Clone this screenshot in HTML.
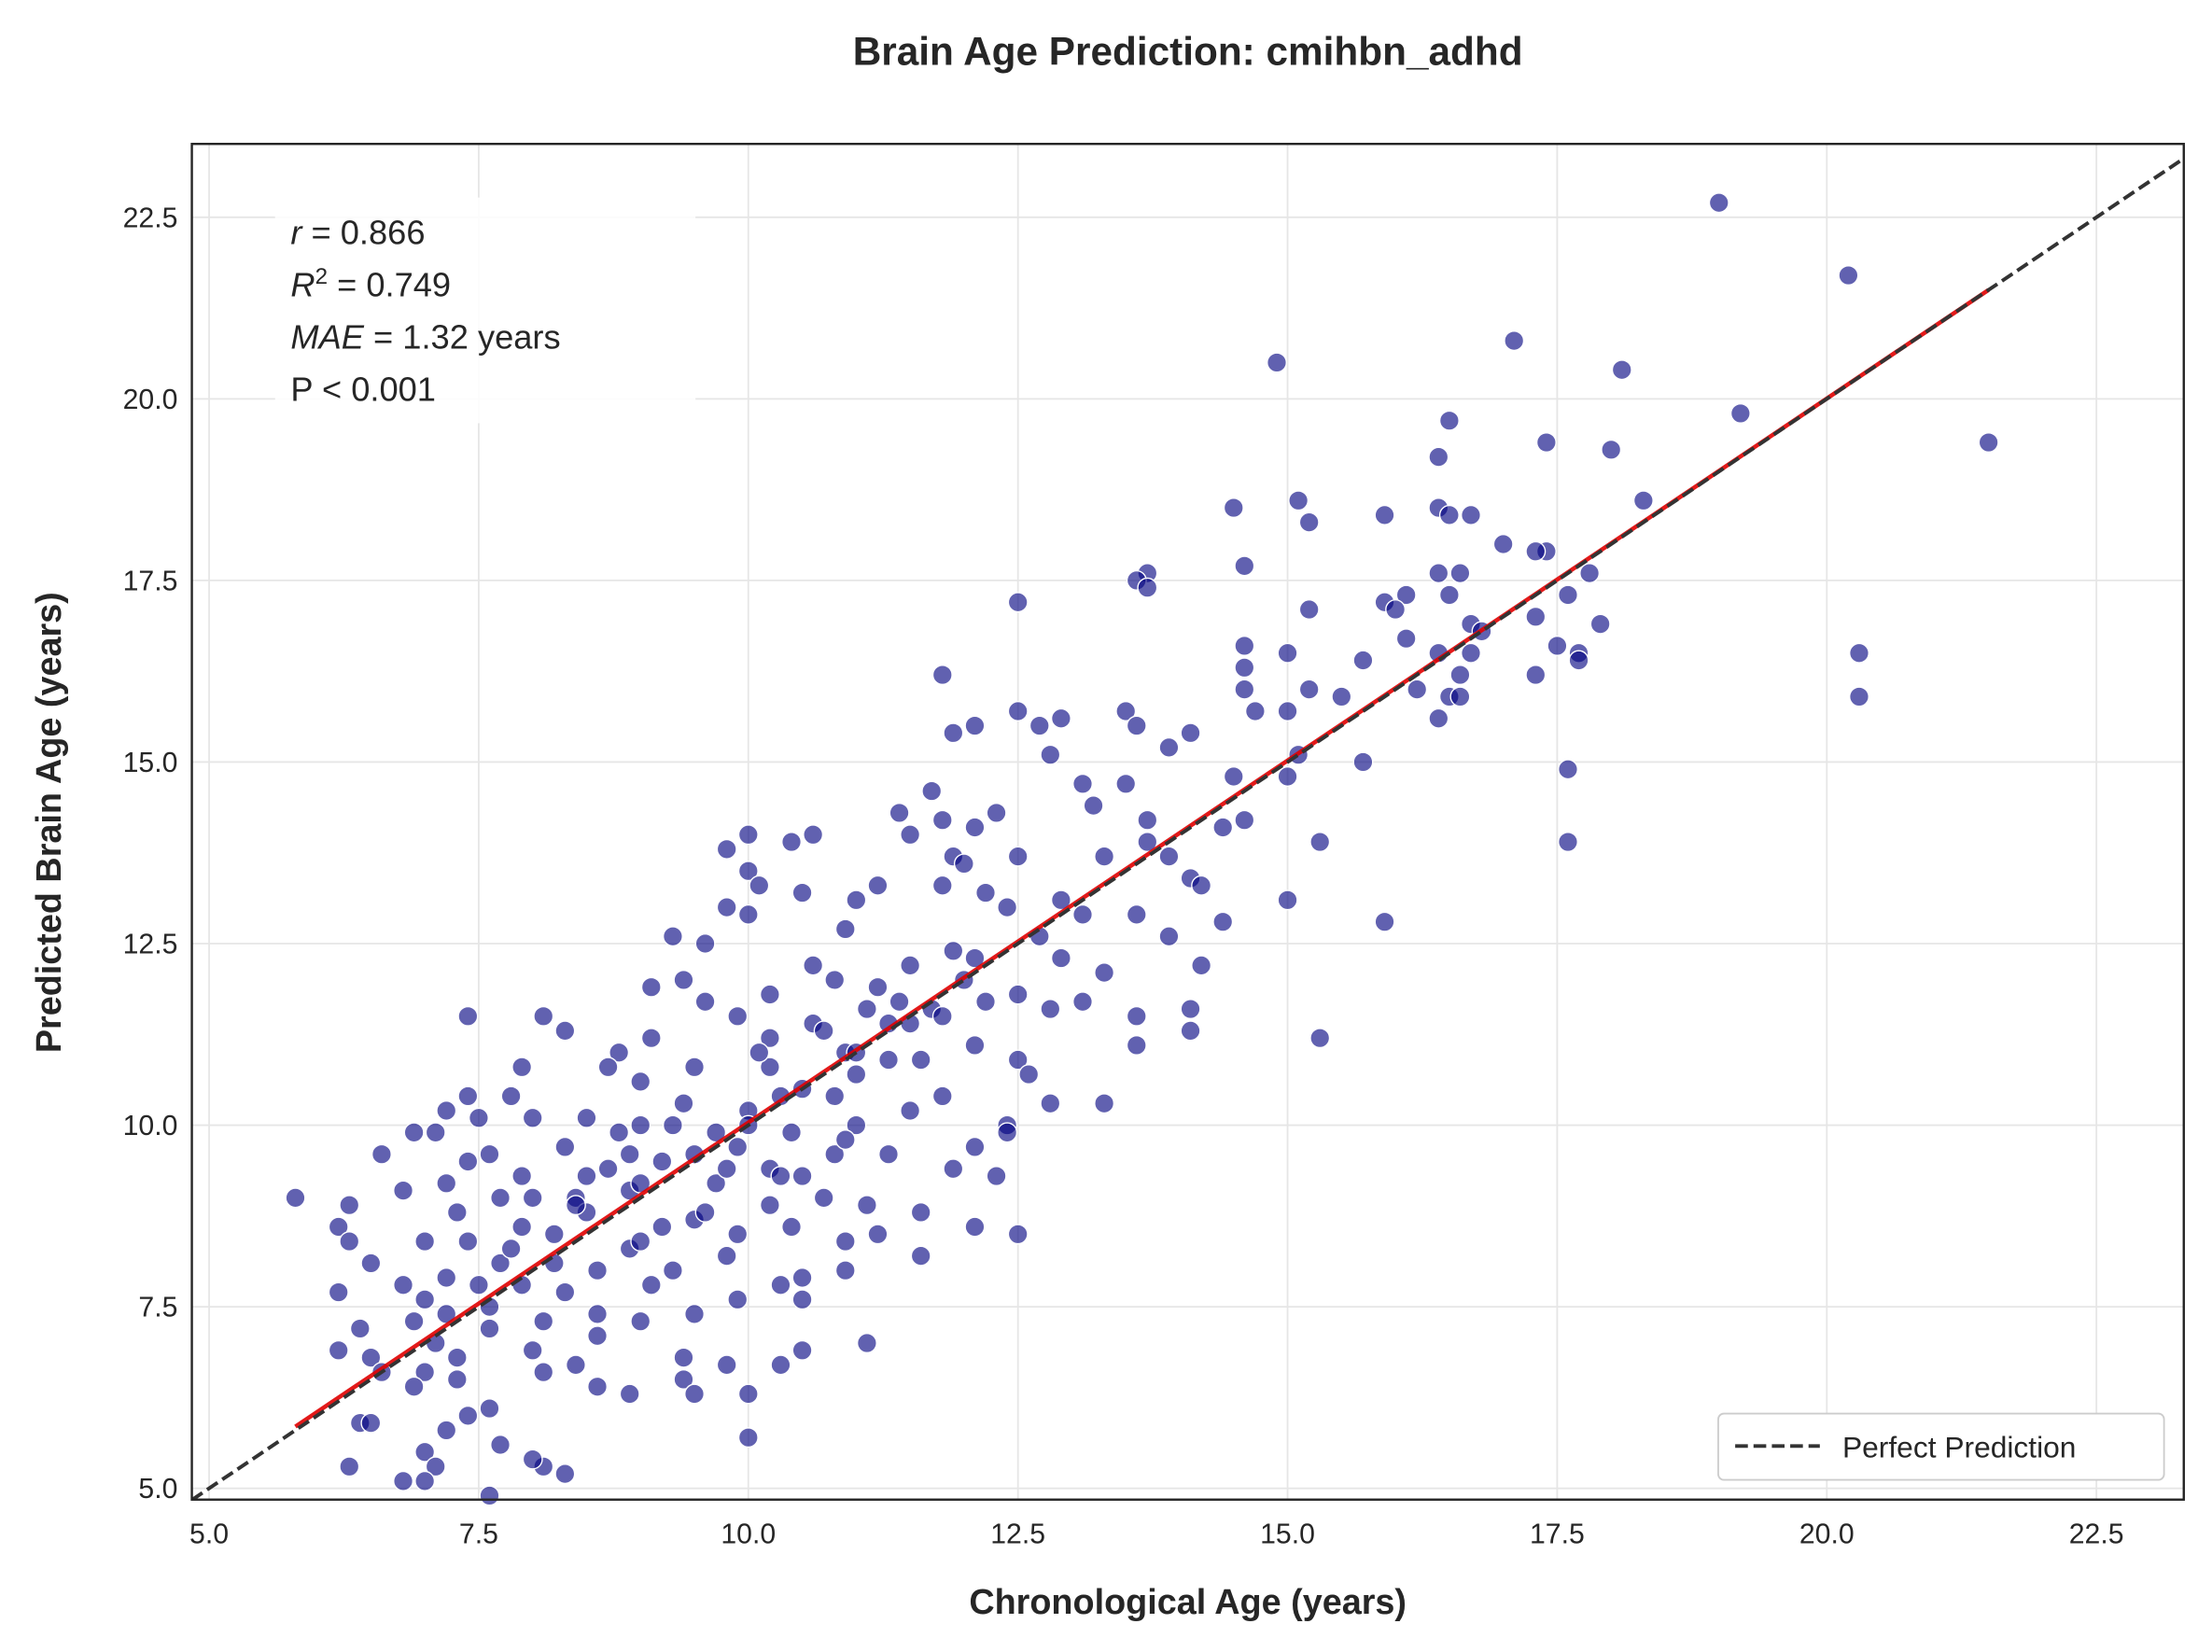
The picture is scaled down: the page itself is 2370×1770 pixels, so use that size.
<!DOCTYPE html>
<html><head><meta charset="utf-8"><style>
html,body{margin:0;padding:0;background:#fff;}
svg{display:block;font-family:"Liberation Sans",Arial,sans-serif;}
</style></head><body>
<svg id="chart" width="2370" height="1770" viewBox="0 0 1568 1171" xmlns="http://www.w3.org/2000/svg">
<defs><clipPath id="plotclip"><rect x="136" y="102" width="1412" height="961"/></clipPath></defs>
<rect width="1568" height="1171" fill="#fff"/>
<g id="grid"></g>
<g id="lines"></g>
<g id="points"></g>
<g id="fit" clip-path="url(#plotclip)"></g>
<rect x="136" y="102" width="1412" height="961" fill="none" stroke="#262626" stroke-width="1.6"/>
<g id="xticks"></g>
<g id="yticks"></g>
<text x="842" y="46" text-anchor="middle" font-size="28" font-weight="bold" fill="#262626">Brain Age Prediction: cmihbn_adhd</text>
<text x="842" y="1144" text-anchor="middle" font-size="25" font-weight="bold" fill="#262626">Chronological Age (years)</text>
<text transform="translate(43,583) rotate(-90)" text-anchor="middle" font-size="25" font-weight="bold" fill="#262626">Predicted Brain Age (years)</text>
<g font-size="24" fill="#262626">
<rect x="195" y="140" width="298" height="160" fill="#fff" opacity="0.85"/>
<text x="206" y="173"><tspan font-style="italic">r</tspan> = 0.866</text>
<text x="206" y="210"><tspan font-style="italic">R</tspan><tspan dy="-9" font-size="16">2</tspan><tspan dy="9"> = 0.749</tspan></text>
<text x="206" y="247"><tspan font-style="italic">MAE</tspan> = 1.32 years</text>
<text x="206" y="284">P &lt; 0.001</text>
</g>
<g>
<rect x="1218" y="1002" width="316" height="47" rx="4" fill="#fff" stroke="#ccc" stroke-width="1.2"/>
<line x1="1230" y1="1025" x2="1290" y2="1025" stroke="#333" stroke-width="2.6" stroke-dasharray="9,4"/>
<text x="1306" y="1033" font-size="21" fill="#262626">Perfect Prediction</text>
</g>
</svg>
<script>
const xTicks=[5.0,7.5,10.0,12.5,15.0,17.5,20.0,22.5];
const yTicks=[5.0,7.5,10.0,12.5,15.0,17.5,20.0,22.5];
const chronAge=[19.0,20.2,17.1,14.9,18.1,19.2,16.5,17.4,21.5,18.0,16.4,18.3,15.1,14.5,16.4,16.5,16.7,15.9,15.2,17.0,17.4,17.3,17.8,14.6,13.7,13.6,16.4,16.6,13.7,16.5,16.1,17.6,15.9,16.0,12.5,15.2,17.3,16.7,17.9,16.8,16.1,16.4,17.5,17.7,14.6,15.0,16.7,15.7,17.7,20.3,14.6,11.8,17.3,16.6,16.2,15.2,16.5,14.6,15.5,16.6,20.3,12.5,13.5,14.7,15.0,16.4,12.7,12.1,11.9,13.6,14.1,12.9,15.1,13.9,12.8,15.7,17.6,14.5,15.0,11.7,13.5,13.1,11.4,12.3,13.2,11.8,14.6,13.7,12.1,14.4,10.6,10.0,11.5,10.4,15.3,17.6,13.7,9.8,10.0,11.9,12.5,13.9,12.0,10.1,10.5,11.2,12.2,13.3,14.1,11.8,9.8,10.0,12.4,14.2,12.9,11.0,13.1,15.0,13.6,14.4,15.9,10.9,13.9,12.7,9.3,9.6,11.9,12.1,12.9,10.6,11.5,14.2,13.3,10.8,9.4,9.1,11.2,12.5,10.2,13.1,11.4,9.6,11.7,9.9,12.8,13.6,7.4,8.1,14.1,14.1,10.6,11.3,15.3,8.3,10.2,9.1,12.1,13.6,8.8,10.9,12.5,11.6,9.5,7.9,10.2,8.7,12.6,11.0,9.0,7.4,7.8,11.8,10.3,13.3,12.8,7.2,9.4,10.0,11.5,8.5,8.0,7.5,12.4,9.0,11.0,12.4,8.8,6.9,7.1,9.7,8.3,9.9,12.1,10.8,7.6,8.9,11.3,6.6,7.4,9.2,10.2,11.9,7.9,8.5,10.5,12.3,7.2,9.7,6.8,8.9,10.7,5.8,7.7,8.4,10.2,11.1,6.3,7.3,9.5,7.9,11.6,10.4,6.2,12.1,12.5,8.2,9.9,7.0,11.2,6.3,7.4,8.9,10.9,11.6,9.8,6.5,7.7,8.6,10.9,9.3,10.5,6.8,7.9,9.1,10.3,8.3,6.2,9.9,7.0,7.6,10.5,8.6,7.2,9.5,6.9,8.1,9.0,6.4,7.6,8.6,7.1,11.1,6.2,8.0,6.5,9.4,7.3,10.5,8.4,9.8,10.3,7.0,6.6,8.1,9.4,7.3,6.9,8.6,9.5,8.9,10.0,7.6,7.4,6.4,6.5,7.2,10.0,7.7,7.0,6.3,8.1,8.3,6.8,7.1,7.6,7.0,8.0,8.0,8.5,9.0,9.5,10.0,10.5,11.0,11.5,12.0,8.2,9.2,9.8,10.4,10.8,11.3,11.8,12.2,7.5,7.8,8.7,9.3,10.1,10.7,11.1,7.2,8.4,9.0,9.6,10.3,10.9];
const predAge=[22.7,21.7,20.8,20.5,20.4,19.8,19.7,19.4,19.4,19.3,19.2,18.6,18.6,18.5,18.5,18.4,18.4,18.4,18.3,18.0,17.9,17.9,17.6,17.7,17.6,17.5,17.6,17.6,17.4,17.3,17.3,17.3,17.2,17.1,17.2,17.1,17.0,16.9,16.9,16.8,16.7,16.5,16.6,16.5,16.6,16.5,16.5,16.4,16.4,16.5,16.3,16.2,16.2,16.2,16.0,16.0,15.9,16.0,15.9,15.9,15.9,15.7,15.7,15.7,15.7,15.6,15.5,15.5,15.4,15.5,15.4,15.6,15.1,15.2,15.1,15.0,14.9,14.8,14.8,14.6,14.7,14.7,14.3,14.3,14.4,14.2,14.2,14.2,14.1,14.1,14.0,14.0,14.0,13.9,13.9,13.9,13.9,13.8,13.5,13.7,13.7,13.7,13.6,13.3,13.2,13.3,13.2,13.7,13.4,13.3,13.0,12.9,13.0,13.3,13.1,13.1,12.9,13.1,12.9,12.8,12.8,12.7,12.6,12.6,12.6,12.5,12.4,12.3,12.3,12.2,12.2,12.2,12.1,12.0,12.0,11.9,11.9,11.8,11.8,11.7,11.7,11.7,11.6,11.5,11.6,11.5,11.5,11.5,11.6,11.3,11.4,11.4,11.2,11.3,11.2,11.2,11.1,11.1,11.0,11.0,10.9,10.9,10.8,10.8,10.8,10.8,10.7,10.7,10.6,10.4,10.4,10.4,10.4,10.3,10.3,10.2,10.3,10.2,10.2,10.1,10.1,10.1,10.0,10.0,10.0,9.9,9.9,9.9,9.9,9.9,9.7,9.7,9.7,9.6,9.6,9.6,9.6,9.6,9.5,9.5,9.4,9.4,9.3,9.3,9.3,9.3,9.2,9.2,9.1,9.1,9.0,9.0,9.0,9.0,8.9,8.9,8.9,8.8,8.7,8.6,8.8,8.6,8.6,8.6,8.5,8.5,8.5,8.4,8.5,8.4,8.4,8.3,8.4,8.2,8.2,8.1,8.1,8.0,8.0,8.0,7.9,7.8,7.8,7.8,7.8,7.7,7.7,7.6,7.6,7.5,7.6,7.4,7.4,7.4,7.3,7.3,7.3,7.2,7.2,7.1,7.0,7.0,6.9,6.9,6.8,6.8,6.8,6.9,6.7,6.7,6.7,6.6,6.6,6.6,6.5,6.5,6.4,6.4,6.3,6.3,6.3,6.1,6.0,5.9,5.9,5.8,5.7,5.6,5.5,5.3,5.3,5.2,5.1,5.3,4.9,5.1,5.4,9.0,8.8,9.2,9.6,10.0,10.5,11.0,11.4,12.0,8.1,8.6,9.4,9.9,10.4,10.9,11.5,11.7,7.8,8.3,9.4,10.0,11.0,11.3,11.6,7.9,8.9,8.4,8.8,9.3,9.8];
const fitStart=[5.8,5.85];
const fitEnd=[21.5,21.5];
const xMin=4.84,xMax=23.31,yMin=4.845,yMax=23.51;
const L=136,R=1548,T=102,B=1063;
const NS="http://www.w3.org/2000/svg";
function sx(v){return L+(v-xMin)/(xMax-xMin)*(R-L);}
function sy(v){return B-(v-yMin)/(yMax-yMin)*(B-T);}
function mk(tag,attrs,parent){const e=document.createElementNS(NS,tag);for(const k in attrs)e.setAttribute(k,attrs[k]);parent.appendChild(e);return e;}
const grid=document.getElementById('grid');
const xg=document.getElementById('xticks'),yg=document.getElementById('yticks');
xTicks.forEach(t=>{
  const l=mk('line',{x1:sx(t),x2:sx(t),y1:T,y2:B,stroke:'#e6e6e6','stroke-width':1.2},grid);
  
  
  const tx=mk('text',{x:sx(t),y:B+31,'text-anchor':'middle','font-size':20,fill:'#262626'},xg);
  tx.textContent=t.toFixed(1);
  
  
});
yTicks.forEach(t=>{
  const l=mk('line',{x1:L,x2:R,y1:sy(t),y2:sy(t),stroke:'#e6e6e6','stroke-width':1.2},grid);
  
  
  const tx=mk('text',{x:L-10,y:sy(t)+7,'text-anchor':'end','font-size':20,fill:'#262626'},yg);
  tx.textContent=t.toFixed(1);
  
  
});
const pg=document.getElementById('points');
for(let i=0;i<chronAge.length;i++){
  const c=mk('circle',{cx:sx(chronAge[i]),cy:sy(predAge[i]),r:6.8,fill:'#000080','fill-opacity':0.62,stroke:'#fff','stroke-width':0.9},pg);
  
  
}
const fg=document.getElementById('fit');
const lo=Math.min(xMin,yMin),hi=Math.max(xMax,yMax);
const fl=mk('line',{x1:sx(fitStart[0]),y1:sy(fitStart[1]),x2:sx(fitEnd[0]),y2:sy(fitEnd[1]),stroke:'#e00000','stroke-width':3,'stroke-opacity':0.9},fg);


const pl=mk('line',{x1:sx(lo),y1:sy(lo),x2:sx(hi),y2:sy(hi),stroke:'#333','stroke-width':2.6,'stroke-dasharray':'9,4'},fg);


</script>
</body></html>
